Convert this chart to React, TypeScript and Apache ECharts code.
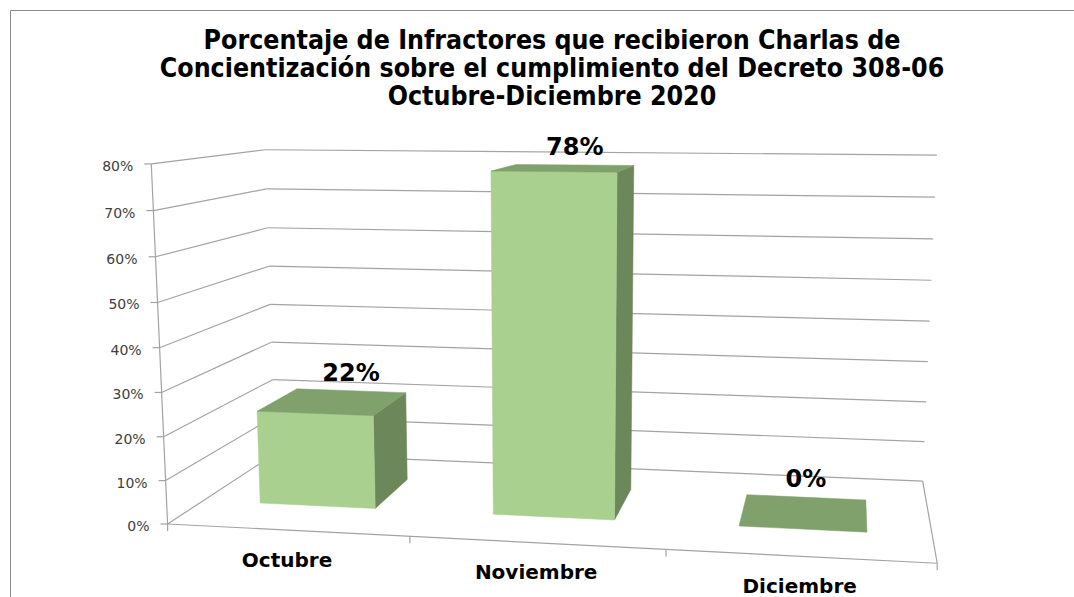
import React, { useEffect, useRef } from 'react';
import * as echarts from 'echarts';

// ---------------- data ----------------
const CATEGORIES = ['Octubre', 'Noviembre', 'Diciembre'];
const VALUES = [22, 78, 0];
const TICKS = [0, 10, 20, 30, 40, 50, 60, 70, 80];
const TITLE_LINES = [
  'Porcentaje de Infractores que recibieron Charlas de',
  'Concientización sobre el cumplimiento del Decreto 308-06',
  'Octubre-Diciembre 2020',
];

// ---------------- layout (3D box calibration: normalized box coords -> screen) ----------------
// [X (0..1 across categories), Y (0..1 value range), Z (0 front .. 1 back), screenX, screenY]
const CAL_POINTS: number[][] = [
  [0, 0, 0, 167.7, 524],
  [1 / 3, 0, 0, 410, 536.5],
  [2 / 3, 0, 0, 666, 550.5],
  [1, 0, 0, 937, 562.5],
  [0, 0.25, 0, 163, 436.7],
  [0, 0.5, 0, 159, 347],
  [0, 0.75, 0, 156, 257],
  [0, 1, 0, 152, 164],
  [0, 0, 1, 276, 453],
  [0, 0.25, 1, 272, 380],
  [0, 0.5, 1, 270, 305],
  [0, 1, 1, 265, 149.5],
  [1, 0, 1, 923, 481],
  [1, 0.25, 1, 926, 402],
  [1, 0.75, 1, 933, 239],
  [1, 1, 1, 937, 155],
];
const BAR_W = 0.5;
const BAR_Z0 = 0.3;
const BAR_Z1 = 0.7;

const GRID_COLOR = '#a3a3a3';
const FRONT_COLOR = '#a9d08e';
const TOP_COLOR = '#80a06c';
const SIDE_COLOR = '#6c8759';
const FONT = '"DejaVu Sans", Verdana, sans-serif';

// ---------------- projection fit (DLT least squares) ----------------
function solve(A: number[][], b: number[]): number[] {
  const n = b.length;
  const M = A.map((r, i) => [...r, b[i]]);
  for (let c = 0; c < n; c++) {
    let piv = c;
    for (let r = c + 1; r < n; r++) if (Math.abs(M[r][c]) > Math.abs(M[piv][c])) piv = r;
    const tmp = M[c]; M[c] = M[piv]; M[piv] = tmp;
    for (let r = 0; r < n; r++) {
      if (r === c) continue;
      const f = M[r][c] / M[c][c];
      for (let k = c; k <= n; k++) M[r][k] -= f * M[c][k];
    }
  }
  return M.map((r, i) => r[n] / r[i]);
}
const NU = (u: number) => (u - 500) / 500;
const NV = (v: number) => (v - 300) / 300;
function fitProjection(pts: number[][]): number[] {
  const n = 11;
  const ATA = Array.from({ length: n }, () => new Array(n).fill(0));
  const ATb = new Array(n).fill(0);
  const add = (row: number[], b: number) => {
    for (let i = 0; i < n; i++) {
      for (let j = 0; j < n; j++) ATA[i][j] += row[i] * row[j];
      ATb[i] += row[i] * b;
    }
  };
  for (const [X, Y, Z, su, sv] of pts) {
    const u = NU(su), v = NV(sv);
    add([X, Y, Z, 1, 0, 0, 0, 0, -u * X, -u * Y, -u * Z], u);
    add([0, 0, 0, 0, X, Y, Z, 1, -v * X, -v * Y, -v * Z], v);
  }
  return solve(ATA, ATb);
}
const PM = fitProjection(CAL_POINTS);
function project(X: number, Y: number, Z: number): number[] {
  const w = PM[8] * X + PM[9] * Y + PM[10] * Z + 1;
  const u = (PM[0] * X + PM[1] * Y + PM[2] * Z + PM[3]) / w;
  const v = (PM[4] * X + PM[5] * Y + PM[6] * Z + PM[7]) / w;
  return [u * 500 + 500, v * 300 + 300];
}

const line = (a: number[], b: number[], stroke = GRID_COLOR, lw = 1.2) => ({
  type: 'line',
  shape: { x1: a[0], y1: a[1], x2: b[0], y2: b[1] },
  style: { stroke, lineWidth: lw },
  silent: true,
});

function normY(cs: any, py: number) {
  return (cs.y + cs.height - py) / cs.height;
}

function renderGrid(params: any, api: any) {
  const cs = params.coordSys;
  const v = api.value(1);
  const y = normY(cs, api.coord([0, v])[1]);
  const children: any[] = [];
  const f = project(0, y, 0);
  children.push(line(f, project(0, y, 1)));
  children.push(line(project(0, y, 1), project(1, y, 1)));
  children.push(line(f, [f[0] - 7, f[1]]));
  children.push({
    type: 'text',
    x: f[0] - 18,
    y: f[1] + 2,
    style: {
      text: v + '%',
      fill: '#404040',
      fontSize: 14,
      fontFamily: FONT,
      align: 'right',
      verticalAlign: 'middle',
    },
    silent: true,
  });
  if (params.dataIndex === 0) {
    const yMax = normY(cs, api.coord([0, TICKS[TICKS.length - 1]])[1]);
    children.push(line(project(0, 0, 0), project(1, 0, 0)));
    children.push(line(project(1, 0, 0), project(1, 0, 1)));
    children.push(line(project(0, 0, 0), project(0, yMax, 0)));
    const band = api.size([1, 0])[0] / cs.width;
    for (let k = 0; k <= CATEGORIES.length; k++) {
      const p = project(k * band, 0, 0);
      children.push(line(p, [p[0], p[1] + 7]));
    }
  }
  return { type: 'group', children };
}

function renderBars(params: any, api: any) {
  const cs = params.coordSys;
  const idx = api.value(0);
  const val = api.value(1);
  const c = api.coord([idx, val]);
  const band = api.size([1, 0])[0] / cs.width;
  const xc = (c[0] - cs.x) / cs.width;
  const yt = normY(cs, c[1]);
  const xl = xc - (band * BAR_W) / 2;
  const xr = xc + (band * BAR_W) / 2;
  const children: any[] = [];
  const poly = (pts: number[][], fill: string) => ({
    type: 'polygon',
    shape: { points: pts },
    style: { fill, stroke: fill, lineWidth: 0.5 },
    silent: true,
  });
  if (yt > 0.001) {
    children.push(
      poly([project(xr, 0, BAR_Z0), project(xr, 0, BAR_Z1), project(xr, yt, BAR_Z1), project(xr, yt, BAR_Z0)], SIDE_COLOR)
    );
    children.push(
      poly([project(xl, 0, BAR_Z0), project(xr, 0, BAR_Z0), project(xr, yt, BAR_Z0), project(xl, yt, BAR_Z0)], FRONT_COLOR)
    );
  }
  children.push(
    poly([project(xl, yt, BAR_Z0), project(xr, yt, BAR_Z0), project(xr, yt, BAR_Z1), project(xl, yt, BAR_Z1)], TOP_COLOR)
  );
  const lp = project(xc, yt, BAR_Z1);
  children.push({
    type: 'text',
    x: lp[0],
    y: lp[1] - 18,
    style: {
      text: val + '%',
      fill: '#000',
      fontSize: 24,
      fontWeight: 'bold',
      fontFamily: FONT,
      align: 'center',
      verticalAlign: 'middle',
    },
    silent: true,
  });
  const cp = project(xc, 0, 0);
  children.push({
    type: 'text',
    x: cp[0],
    y: cp[1] + 29.5,
    style: {
      text: CATEGORIES[idx],
      fill: '#000',
      fontSize: 20,
      fontWeight: 'bold',
      fontFamily: FONT,
      align: 'center',
      verticalAlign: 'middle',
    },
    silent: true,
  });
  return { type: 'group', children };
}

export default function App() {
  const ref = useRef<HTMLDivElement>(null);
  useEffect(() => {
    const chart = echarts.init(ref.current!, null, { renderer: 'svg' });
    chart.setOption({
      animation: false,
      backgroundColor: '#ffffff',
      title: {
        text: TITLE_LINES.join('\n'),
        left: 547,
        top: 20,
        textAlign: 'center',
        textStyle: {
          fontSize: 26.5,
          fontWeight: 'bold',
          color: '#000',
          lineHeight: 28,
          fontFamily: '"DejaVu Sans Condensed", "DejaVu Sans", sans-serif',
        },
      },
      graphic: [
        {
          type: 'rect',
          shape: { x: 10.5, y: 10.5, width: 1300, height: 900 },
          style: { fill: 'none', stroke: '#8a8a8a', lineWidth: 1 },
          silent: true,
          z: 0,
        },
      ],
      grid: { left: 100, top: 100, width: 600, height: 300, show: false },
      xAxis: { type: 'category', data: CATEGORIES, show: false },
      yAxis: { type: 'value', min: 0, max: 80, interval: 10, show: false },
      series: [
        {
          type: 'custom',
          name: 'grid3d',
          data: TICKS.map((t) => [0, t]),
          renderItem: renderGrid,
          z: 1,
          silent: true,
        },
        {
          type: 'custom',
          name: 'bars',
          data: VALUES.map((v, i) => [i, v]),
          renderItem: renderBars,
          z: 2,
          silent: true,
        },
      ],
    });
    return () => chart.dispose();
  }, []);
  return (
    <div
      ref={ref}
      style={{ position: 'fixed', left: 0, top: 0, width: 1074, height: 597, background: '#fff' }}
    />
  );
}
